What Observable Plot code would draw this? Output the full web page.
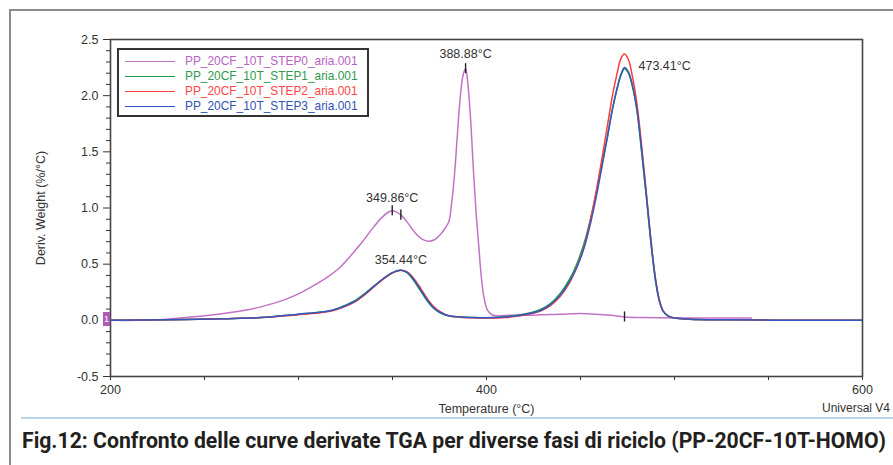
<!DOCTYPE html>
<html>
<head>
<meta charset="utf-8">
<script src="https://cdn.jsdelivr.net/npm/d3@7"></script>
<script src="https://cdn.jsdelivr.net/npm/@observablehq/plot@0.6"></script>
<style>
  html, body { margin: 0; padding: 0; background: #fff; }
  body { width: 893px; height: 465px; overflow: hidden; position: relative; font-family: "Liberation Sans", Arial, sans-serif; }
  #frame-top { position: absolute; left: 9px; top: 9px; width: 884px; height: 0; border-top: 2px solid #8c8c8c; }
  #frame-left { position: absolute; left: 9px; top: 9px; width: 0; height: 460px; border-left: 2px solid #8c8c8c; }
  #chart { position: absolute; left: 0; top: 0; }
  #rule { position: absolute; left: 21px; top: 417px; width: 872px; height: 2px; background: #b9d3e8; }
  #caption { position: absolute; left: 22px; top: 427px; white-space: nowrap; font-family: "Roboto", "DejaVu Sans Condensed", sans-serif; font-weight: bold; font-size: 22.5px; color: #231f20; transform-origin: 0 0; }
  #legend { position: absolute; left: 117px; top: 48px; width: 248px; height: 65px; border: 2px solid #333; background: #fff; }
  #legend .row { position: absolute; left: 0; height: 15px; width: 248px; }
  #legend .swatch { position: absolute; left: 6px; top: 7px; width: 50px; height: 0; border-top: 1.5px solid; }
  #legend .name { position: absolute; left: 66px; top: 0; font-size: 11.9px; line-height: 15px; white-space: nowrap; }
  #marker { position: absolute; left: 103px; top: 312px; width: 7px; height: 14px; background: #b05ab8; color: #fff; font-size: 9px; line-height: 14px; text-align: center; }
  #software { position: absolute; left: 822px; top: 401px; font-size: 12px; color: #333; white-space: nowrap; }
</style>
</head>
<body>
<div id="frame-top"></div>
<div id="frame-left"></div>
<div id="chart"></div>
<div id="legend"></div>
<div id="marker">1</div>
<div id="software">Universal V4</div>
<div id="rule"></div>
<div id="caption">Fig.12: Confronto delle curve derivate TGA per diverse fasi di riciclo (PP-20CF-10T-HOMO)</div>
<script>
// Series names and colours
const seriesNames = [
  "PP_20CF_10T_STEP0_aria.001",
  "PP_20CF_10T_STEP1_aria.001",
  "PP_20CF_10T_STEP2_aria.001",
  "PP_20CF_10T_STEP3_aria.001"
];
const seriesColors = ["#c272c6", "#1f9a3c", "#ff3b3b", "#3656c2"];
const legendTextColors = ["#b862c2", "#2f9a4e", "#ff4545", "#3352b4"];

// STEP0: temperature (°C) and derivative weight (%/°C)
const temps0 = [200, 215, 225, 240, 257, 270, 280, 292, 300, 305, 315, 322, 328, 334, 339, 344, 347.5, 349.86, 352, 355, 358, 362, 366, 369, 372, 375.5, 378, 380, 381.5, 383, 384.5, 386, 387.5, 388.88, 390, 391.5, 393, 394.5, 395.8, 397, 398.5, 400.5, 403, 406, 412, 420, 430, 440, 450, 458, 466, 473.41, 482, 492, 505, 520, 541];
const deriv0 = [0.0, 0.0, 0.005, 0.025, 0.055, 0.085, 0.12, 0.18, 0.235, 0.28, 0.38, 0.47, 0.58, 0.70, 0.81, 0.91, 0.96, 0.975, 0.965, 0.93, 0.87, 0.78, 0.72, 0.705, 0.715, 0.765, 0.82, 0.88, 1.05, 1.30, 1.65, 1.98, 2.18, 2.24, 2.12, 1.80, 1.35, 0.95, 0.68, 0.43, 0.22, 0.09, 0.05, 0.04, 0.045, 0.045, 0.05, 0.055, 0.06, 0.055, 0.045, 0.03, 0.025, 0.022, 0.02, 0.02, 0.02];

// STEP1..STEP3 share one temperature grid
const tempsSteps = [200, 230, 260, 280, 300, 310, 318, 325, 330, 335, 340, 345, 350, 354.44, 358, 361, 365, 368.6, 372, 375.5, 380, 386, 392, 400, 410, 418, 424, 429, 434, 439, 444, 448, 452, 455, 458, 461, 464, 467, 469.5, 471.5, 473.41, 475.5, 477.5, 480, 482.5, 485, 487.5, 490, 492, 494, 496.5, 500, 508, 530, 570, 600];
const deriv1 = [0.0, 0.005, 0.015, 0.025, 0.055, 0.07, 0.09, 0.135, 0.175, 0.235, 0.305, 0.37, 0.425, 0.445, 0.42, 0.36, 0.26, 0.17, 0.105, 0.065, 0.038, 0.03, 0.025, 0.022, 0.032, 0.05, 0.07, 0.10, 0.15, 0.235, 0.36, 0.50, 0.69, 0.88, 1.10, 1.35, 1.61, 1.88, 2.06, 2.18, 2.24, 2.20, 2.09, 1.87, 1.50, 1.10, 0.68, 0.34, 0.17, 0.08, 0.04, 0.02, 0.01, 0.005, 0.0, 0.0];
const deriv2 = [0.0, 0.005, 0.015, 0.025, 0.05, 0.065, 0.085, 0.125, 0.165, 0.225, 0.295, 0.365, 0.42, 0.445, 0.43, 0.38, 0.285, 0.19, 0.12, 0.075, 0.04, 0.028, 0.022, 0.02, 0.025, 0.04, 0.06, 0.085, 0.13, 0.21, 0.33, 0.47, 0.66, 0.87, 1.12, 1.40, 1.70, 2.00, 2.20, 2.33, 2.37, 2.32, 2.18, 1.93, 1.56, 1.14, 0.71, 0.36, 0.18, 0.085, 0.04, 0.02, 0.01, 0.005, 0.0, 0.0];
const deriv3 = [0.0, 0.005, 0.015, 0.025, 0.055, 0.07, 0.09, 0.13, 0.17, 0.23, 0.30, 0.37, 0.425, 0.445, 0.425, 0.37, 0.27, 0.18, 0.11, 0.07, 0.04, 0.03, 0.025, 0.022, 0.03, 0.045, 0.065, 0.09, 0.14, 0.22, 0.34, 0.47, 0.65, 0.84, 1.07, 1.33, 1.60, 1.88, 2.07, 2.19, 2.25, 2.21, 2.10, 1.88, 1.52, 1.12, 0.70, 0.35, 0.17, 0.08, 0.04, 0.02, 0.01, 0.005, 0.0, 0.0];

// Axis ticks
const xTicks = [200, 400, 600];
const xMinorTicks = [250, 300, 350, 450, 500, 550];
const yTicks = [-0.5, 0.0, 0.5, 1.0, 1.5, 2.0, 2.5];
const yMinorTicks = [-0.4, -0.3, -0.2, -0.1, 0.1, 0.2, 0.3, 0.4, 0.6, 0.7, 0.8, 0.9, 1.1, 1.2, 1.3, 1.4, 1.6, 1.7, 1.8, 1.9, 2.1, 2.2, 2.3, 2.4];

// Peak temperatures reported by the analysis software, and event markers on STEP0
const peakTemps = [349.86, 388.88, 354.44, 473.41];
const markerTemps = [349.86, 354.44, 388.88, 473.41];

const toRows = (ts, vs) => ts.map((t, i) => ({t, v: vs[i]}));
const series = [
  toRows(temps0, deriv0),
  toRows(tempsSteps, deriv1),
  toRows(tempsSteps, deriv2),
  toRows(tempsSteps, deriv3)
];

// value of a series at temperature t (linear between samples)
function valueAt(rows, t) {
  for (let i = 1; i < rows.length; i++) {
    if (rows[i].t >= t) {
      const a = rows[i - 1], b = rows[i];
      return a.v + (b.v - a.v) * (t - a.t) / (b.t - a.t);
    }
  }
  return rows[rows.length - 1].v;
}

const peak = (s, t) => [{t, v: valueAt(series[s], t), label: `${t.toFixed(2)}°C`}];
// the 388.88 marker sits on the STEP0 peak, the 473.41 one on its baseline
const markers = markerTemps.map(t => ({t, v: valueAt(series[0], t)}));

const font = "'Liberation Sans', Arial, sans-serif";
const fmt = d => d.toFixed(1);

const chart = Plot.plot({
  width: 893,
  height: 420,
  marginLeft: 110,
  marginRight: 31,
  marginTop: 39,
  marginBottom: 44,
  x: {domain: [200, 600]},
  y: {domain: [-0.5, 2.5]},
  style: {fontFamily: font, fontSize: "12px", color: "#333", background: "transparent", overflow: "visible"},
  marks: [
    Plot.axisY(yMinorTicks, {tickSize: 4, tickFormat: () => "", label: null, stroke: "#333"}),
    Plot.axisY(yTicks, {tickSize: 7, tickPadding: 5, tickFormat: fmt, fontSize: 12.5, stroke: "#333",
      label: "Deriv. Weight (%/°C)", labelAnchor: "center", labelArrow: "none", labelOffset: 74}),
    Plot.axisX(xMinorTicks, {tickSize: 4, tickFormat: () => "", label: null, stroke: "#333"}),
    Plot.axisX(xTicks, {tickSize: 4, tickPadding: 5, tickFormat: d => String(d), fontSize: 12.5, stroke: "#333",
      label: "Temperature (°C)", labelAnchor: "center", labelArrow: "none", labelOffset: 36}),
    Plot.frame({stroke: "#444", strokeWidth: 1.6}),
    ...series.map((rows, i) => Plot.line(rows, {
      x: "t", y: "v", stroke: seriesColors[i], strokeWidth: 1.5, curve: "catmull-rom", clip: true
    })),
    Plot.ruleX(markers, {x: "t", y1: d => d.v - 0.045, y2: d => d.v + 0.045, stroke: "#222", strokeWidth: 1.4}),
    Plot.text(peak(0, peakTemps[0]), {x: "t", y: "v", text: "label", dy: -13, fontSize: 12.5, fill: "#333"}),
    Plot.text(peak(0, peakTemps[1]), {x: "t", y: "v", text: "label", dy: -15, fontSize: 12.5, fill: "#333"}),
    Plot.text(peak(3, peakTemps[2]), {x: "t", y: "v", text: "label", dy: -10, fontSize: 12.5, fill: "#333"}),
    Plot.text(peak(3, peakTemps[3]), {x: "t", y: "v", text: "label", dx: 14, dy: -2, textAnchor: "start", fontSize: 12.5, fill: "#333"})
  ]
});
document.getElementById("chart").appendChild(chart);

// Legend box
const legend = document.getElementById("legend");
seriesNames.forEach((name, i) => {
  const row = document.createElement("div");
  row.className = "row";
  row.style.top = (4 + i * 15) + "px";
  const sw = document.createElement("div");
  sw.className = "swatch";
  sw.style.borderTopColor = seriesColors[i];
  const label = document.createElement("div");
  label.className = "name";
  label.style.color = legendTextColors[i];
  label.textContent = name;
  row.appendChild(sw);
  row.appendChild(label);
  legend.appendChild(row);
});

// Fit the caption to the width of the page
const caption = document.getElementById("caption");
const w = caption.getBoundingClientRect().width;
caption.style.transform = `scaleX(${864 / w})`;
</script>
</body>
</html>
